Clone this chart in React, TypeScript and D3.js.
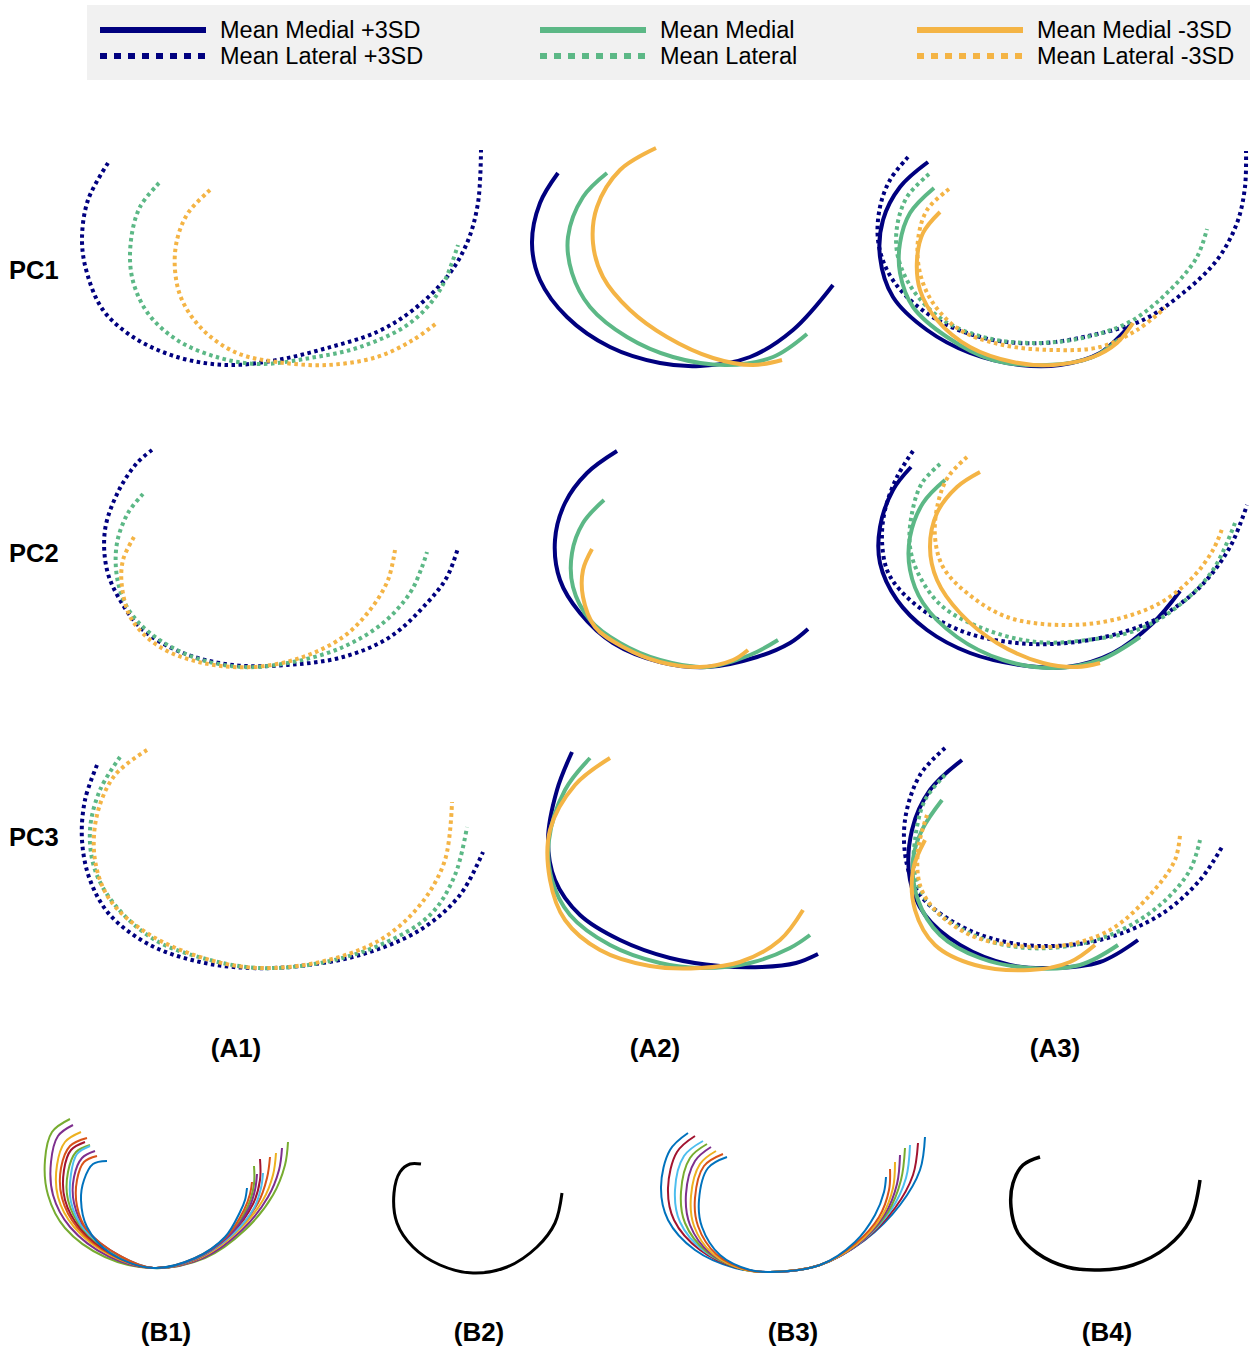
import React from 'react';
import * as d3 from 'd3';

type Pt = [number, number];

const NAVY = '#00007f';
const GREEN = '#5cb886';
const ORANGE = '#f4b445';

// B-panel palette (outer to inner)
const B1_COLORS = ['#77AC30', '#7E2F8E', '#EDB120', '#D95319', '#A2142F', '#77AC30', '#4DBEEE', '#7E2F8E', '#D95319', '#0072BD'];
const B3_COLORS = ['#0072BD', '#A2142F', '#4DBEEE', '#77AC30', '#7E2F8E', '#EDB120', '#D95319', '#0072BD'];

const LEGEND_LABELS = [
  ['Mean Medial +3SD', 'Mean Lateral +3SD'],
  ['Mean Medial', 'Mean Lateral'],
  ['Mean Medial -3SD', 'Mean Lateral -3SD'],
];
const ROW_LABELS = ['PC1', 'PC2', 'PC3'];
const COL_LABELS = ['(A1)', '(A2)', '(A3)'];
const B_LABELS = ['(B1)', '(B2)', '(B3)', '(B4)'];

// ---- PC1 ----
const pc1LatPlus: Pt[] = [[48,33],[28,70],[22,110],[27,143],[43,180],[73,207],[117,227],[167,235],[217,230],[267,218],[317,202],[353,180],[387,147],[407,113],[418,73],[421,20]];
const pc1LatMean: Pt[] = [[99,53],[80,77],[71,110],[72,147],[87,182],[117,210],[160,228],[200,234],[250,228],[300,217],[350,193],[380,160],[398,115]];
const pc1LatMinus: Pt[] = [[150,60],[128,83],[117,110],[115,140],[122,170],[143,200],[177,223],[217,232],[267,235],[317,227],[353,210],[378,192]];
const pc1MedPlus: Pt[] = [[58,43],[40,73],[32,113],[40,150],[67,187],[110,217],[160,233],[200,236],[250,227],[293,200],[333,155]];
const pc1MedMean: Pt[] = [[107,43],[83,67],[68,107],[72,143],[90,177],[127,207],[173,227],[227,235],[273,227],[307,204]];
const pc1MedMinus: Pt[] = [[156,18],[120,40],[97,77],[93,113],[103,147],[130,180],[167,207],[213,228],[253,235],[282,230]];
const pc1BothLatPlus: Pt[] = [[48,27],[30,50],[20,77],[18,110],[27,140],[47,167],[83,193],[133,210],[183,213],[233,205],[283,190],[323,163],[357,130],[377,93],[385,57],[386,21]];
const pc1BothMedPlus: Pt[] = [[68,32],[40,57],[23,90],[20,127],[33,167],[67,200],[110,223],[160,235],[200,235],[240,223],[272,193]];
const pc1BothLatMean: Pt[] = [[69,44],[47,67],[37,97],[38,127],[53,160],[83,190],[127,208],[177,213],[227,207],[273,190],[313,157],[337,127],[347,99]];
const pc1BothMedMean: Pt[] = [[74,58],[50,83],[40,113],[40,143],[53,177],[87,207],[133,230],[187,235],[233,227],[258,210]];
const pc1BothLatMinus: Pt[] = [[89,59],[67,80],[58,110],[60,143],[73,173],[100,200],[143,215],[193,220],[240,217],[277,200],[305,178]];
const pc1BothMedMinus: Pt[] = [[80,82],[63,103],[57,130],[60,160],[77,190],[110,217],[153,232],[193,235],[233,227],[257,213],[273,193]];

// ---- PC2 ----
const pc2LatPlus: Pt[] = [[92,20],[77,33],[58,62],[45,100],[47,140],[60,170],[83,200],[123,223],[173,235],[227,235],[283,227],[330,207],[367,173],[387,147],[398,118]];
const pc2LatMean: Pt[] = [[83,64],[68,83],[57,113],[57,147],[67,177],[90,203],[133,227],[183,237],[233,232],[283,217],[323,193],[350,163],[362,137],[367,122]];
const pc2LatMinus: Pt[] = [[74,107],[63,130],[62,157],[72,190],[100,217],[143,233],[193,237],[240,228],[283,207],[310,180],[328,150],[335,120]];
const pc2MedPlus: Pt[] = [[117,21],[87,43],[65,73],[55,110],[60,150],[80,183],[113,213],[160,232],[207,237],[257,227],[290,213],[308,199]];
const pc2MedMean: Pt[] = [[104,70],[83,93],[72,123],[73,157],[90,190],[120,213],[160,230],[207,237],[250,225],[278,210]];
const pc2MedMinus: Pt[] = [[92,119],[83,140],[83,167],[95,197],[123,217],[160,232],[200,237],[233,230],[248,220]];
const pc2BothLatPlus: Pt[] = [[53,21],[37,47],[25,80],[22,110],[27,140],[40,160],[67,183],[107,203],[157,213],[207,213],[260,203],[300,187],[340,157],[370,117],[387,75]];
const pc2BothMedPlus: Pt[] = [[51,37],[33,60],[20,97],[20,133],[37,170],[67,200],[110,223],[160,235],[207,237],[253,223],[293,193],[320,161]];
const pc2BothLatMean: Pt[] = [[80,34],[62,53],[52,83],[50,117],[60,147],[83,177],[127,200],[177,212],[227,210],[277,200],[317,177],[353,140],[375,93]];
const pc2BothMedMean: Pt[] = [[85,50],[63,73],[50,107],[50,140],[63,173],[97,207],[143,230],[193,238],[240,230],[280,207]];
const pc2BothLatMinus: Pt[] = [[107,27],[88,47],[78,73],[75,107],[83,137],[107,163],[147,187],[200,195],[253,190],[300,173],[333,147],[353,120],[362,99]];
const pc2BothMedMinus: Pt[] = [[120,42],[97,57],[77,83],[70,117],[77,150],[100,183],[137,213],[183,233],[217,237],[240,233]];

// ---- PC3 ----
const pc3LatPlus: Pt[] = [[37,35],[25,70],[22,110],[30,150],[50,185],[90,215],[140,232],[190,238],[240,236],[300,225],[360,200],[400,165],[423,122]];
const pc3LatMean: Pt[] = [[60,27],[40,60],[30,100],[35,140],[55,175],[95,210],[150,230],[200,238],[260,233],[320,215],[370,185],[395,145],[407,97]];
const pc3LatMinus: Pt[] = [[87,20],[55,45],[37,85],[35,130],[50,170],[90,205],[150,230],[200,238],[260,232],[320,210],[360,175],[385,130],[392,72]];
const pc3MedPlus: Pt[] = [[72,22],[57,60],[48,110],[55,150],[80,185],[120,210],[170,228],[220,236],[262,237],[296,233],[318,224]];
const pc3MedMean: Pt[] = [[90,28],[65,60],[49,110],[52,150],[70,185],[110,215],[160,233],[200,238],[250,233],[290,218],[310,205]];
const pc3MedMinus: Pt[] = [[110,28],[75,55],[50,100],[50,150],[65,190],[100,220],[150,236],[200,238],[240,232],[280,210],[303,180]];
const pc3BothLatPlus: Pt[] = [[85,18],[60,45],[45,90],[47,135],[60,165],[90,190],[130,208],[180,216],[240,210],[300,185],[340,150],[362,117]];
const pc3BothMedPlus: Pt[] = [[102,30],[70,60],[52,100],[50,150],[65,185],[100,215],[150,235],[190,238],[240,232],[278,210]];
const pc3BothLatMean: Pt[] = [[85,45],[65,70],[55,110],[55,145],[70,175],[100,198],[140,214],[190,218],[250,205],[300,175],[330,140],[340,110]];
const pc3BothMedMean: Pt[] = [[82,70],[62,100],[53,130],[58,170],[80,205],[120,228],[170,238],[220,235],[258,215]];
const pc3BothLatMinus: Pt[] = [[67,85],[58,120],[60,155],[75,180],[110,205],[150,215],[200,216],[250,200],[290,165],[315,130],[320,105]];
const pc3BothMedMinus: Pt[] = [[65,110],[53,140],[55,180],[75,215],[115,235],[170,240],[210,232],[235,215]];

// ---- B panels ----
const b1Curves: Pt[][] = [
  [[40,19],[22,32],[15,60],[18,95],[35,128],[75,157],[123,168],[175,158],[215,130],[243,95],[255,65],[258,42]],
  [[43,25],[28,36],[21,62],[23,95],[40,127],[78,156],[123,168],[173,158],[212,130],[238,97],[249,70],[252,48]],
  [[51,32],[35,42],[27,65],[28,97],[44,127],[80,155],[123,168],[170,158],[208,131],[233,100],[243,75],[246,53]],
  [[57,38],[40,46],[31,68],[32,98],[47,127],[82,155],[123,168],[168,158],[205,132],[228,103],[237,78],[240,57]],
  [[55,42],[41,50],[34,70],[35,100],[50,128],[84,155],[123,168],[166,159],[202,133],[223,104],[230,80],[230,59]],
  [[60,45],[46,52],[38,72],[38,100],[52,128],[86,155],[123,168],[165,159],[200,134],[218,106],[224,84],[224,66]],
  [[60,46],[47,54],[41,74],[41,102],[54,129],[88,155],[123,168],[165,159],[203,134],[224,108],[231,88],[233,73]],
  [[65,51],[52,58],[44,77],[44,103],[56,129],[90,156],[123,168],[164,159],[200,135],[219,108],[225,90],[227,74]],
  [[67,56],[54,62],[47,80],[47,106],[57,130],[92,157],[123,168],[163,159],[197,136],[214,110],[220,94],[222,82]],
  [[77,61],[63,64],[54,80],[51,100],[57,127],[80,153],[123,168],[165,158],[195,137],[210,112],[215,100],[217,88]],
];
const b2Curve: Pt[] = [[61,24],[50,24],[40,32],[34,53],[37,83],[53,107],[80,125],[113,133],[147,127],[177,107],[195,83],[202,53]];
const b3Curves: Pt[][] = [
  [[48,13],[30,30],[21,67],[28,100],[55,130],[95,148],[130,152],[180,145],[225,120],[260,85],[280,50],[285,17]],
  [[55,16],[37,32],[28,68],[34,100],[60,130],[98,148],[130,152],[180,145],[223,121],[255,88],[273,55],[278,23]],
  [[63,21],[44,36],[35,70],[40,102],[64,131],[100,148],[130,152],[180,145],[221,122],[251,90],[266,58],[270,25]],
  [[67,24],[50,38],[41,72],[45,103],[67,132],[102,149],[130,152],[180,145],[219,123],[248,92],[261,60],[265,28]],
  [[71,27],[55,41],[46,74],[50,105],[70,133],[104,149],[130,152],[180,145],[218,124],[245,94],[257,64],[260,35]],
  [[76,31],[60,44],[51,76],[54,106],[73,134],[106,150],[130,152],[180,145],[217,124],[242,96],[253,68],[255,42]],
  [[83,34],[64,46],[55,78],[58,106],[76,134],[108,150],[130,152],[180,145],[216,123],[239,97],[249,70],[250,49]],
  [[87,37],[68,48],[59,80],[62,107],[80,135],[110,150],[130,152],[180,145],[215,122],[235,95],[244,72],[246,57]],
];
const b4Curve: Pt[] = [[50,17],[33,25],[23,43],[21,67],[28,93],[47,113],[77,127],[110,130],[143,125],[177,107],[200,80],[210,40]];

type Curve = { pts: Pt[]; color: string; dotted?: boolean; width?: number };

const COL_X = [60, 500, 860];
const ROW_Y = [130, 430, 730];

const gridPanels: Curve[][][] = [
  [
    [{ pts: pc1LatPlus, color: NAVY, dotted: true }, { pts: pc1LatMean, color: GREEN, dotted: true }, { pts: pc1LatMinus, color: ORANGE, dotted: true }],
    [{ pts: pc1MedPlus, color: NAVY }, { pts: pc1MedMean, color: GREEN }, { pts: pc1MedMinus, color: ORANGE }],
    [
      { pts: pc1BothLatPlus, color: NAVY, dotted: true }, { pts: pc1BothMedPlus, color: NAVY },
      { pts: pc1BothLatMean, color: GREEN, dotted: true }, { pts: pc1BothMedMean, color: GREEN },
      { pts: pc1BothLatMinus, color: ORANGE, dotted: true }, { pts: pc1BothMedMinus, color: ORANGE },
    ],
  ],
  [
    [{ pts: pc2LatPlus, color: NAVY, dotted: true }, { pts: pc2LatMean, color: GREEN, dotted: true }, { pts: pc2LatMinus, color: ORANGE, dotted: true }],
    [{ pts: pc2MedPlus, color: NAVY }, { pts: pc2MedMean, color: GREEN }, { pts: pc2MedMinus, color: ORANGE }],
    [
      { pts: pc2BothLatPlus, color: NAVY, dotted: true }, { pts: pc2BothMedPlus, color: NAVY },
      { pts: pc2BothLatMean, color: GREEN, dotted: true }, { pts: pc2BothMedMean, color: GREEN },
      { pts: pc2BothLatMinus, color: ORANGE, dotted: true }, { pts: pc2BothMedMinus, color: ORANGE },
    ],
  ],
  [
    [{ pts: pc3LatPlus, color: NAVY, dotted: true }, { pts: pc3LatMean, color: GREEN, dotted: true }, { pts: pc3LatMinus, color: ORANGE, dotted: true }],
    [{ pts: pc3MedPlus, color: NAVY }, { pts: pc3MedMean, color: GREEN }, { pts: pc3MedMinus, color: ORANGE }],
    [
      { pts: pc3BothLatPlus, color: NAVY, dotted: true }, { pts: pc3BothMedPlus, color: NAVY },
      { pts: pc3BothLatMean, color: GREEN, dotted: true }, { pts: pc3BothMedMean, color: GREEN },
      { pts: pc3BothLatMinus, color: ORANGE, dotted: true }, { pts: pc3BothMedMinus, color: ORANGE },
    ],
  ],
];

const bPanels: { ox: number; oy: number; curves: Curve[] }[] = [
  { ox: 30, oy: 1100, curves: b1Curves.map((pts, i) => ({ pts, color: B1_COLORS[i], width: 2 })) },
  { ox: 360, oy: 1140, curves: [{ pts: b2Curve, color: '#000', width: 3 }] },
  { ox: 640, oy: 1120, curves: b3Curves.map((pts, i) => ({ pts, color: B3_COLORS[i], width: 2 })) },
  { ox: 990, oy: 1140, curves: [{ pts: b4Curve, color: '#000', width: 3.5 }] },
];

const FONT = 'Arial, "Liberation Sans", sans-serif';

const Panel = ({ ox, oy, curves }: { ox: number; oy: number; curves: Curve[] }) => {
  const xs = d3.scaleLinear().domain([0, 400]).range([ox, ox + 400]);
  const ys = d3.scaleLinear().domain([0, 260]).range([oy, oy + 260]);
  const line = d3.line<Pt>()
    .x(d => xs(d[0]))
    .y(d => ys(d[1]))
    .curve(d3.curveCatmullRom.alpha(0.5));
  return (
    <g>
      {curves.map((c, i) => (
        <path
          key={i}
          d={line(c.pts) || ''}
          fill="none"
          stroke={c.color}
          strokeWidth={c.width ?? 4}
          strokeDasharray={c.dotted ? '3.5 3.5' : undefined}
        />
      ))}
    </g>
  );
};

const Legend = () => {
  const colX = d3.scaleOrdinal<number, number>().domain([0, 1, 2]).range([100, 540, 917]);
  const colors = [NAVY, GREEN, ORANGE];
  return (
    <g>
      <rect x={87} y={5} width={1163} height={75} fill="#f1f1f1" />
      {LEGEND_LABELS.map((pair, i) => (
        <g key={i}>
          {pair.map((label, j) => {
            const y = j === 0 ? 30 : 56;
            return (
              <g key={j}>
                <line
                  x1={colX(i)} x2={colX(i) + 106} y1={y} y2={y}
                  stroke={colors[i]} strokeWidth={6}
                  strokeDasharray={j === 1 ? '7 7' : undefined}
                />
                <text x={colX(i) + 120} y={y + 8} fontSize={23.5} fontFamily={FONT} fill="#000">{label}</text>
              </g>
            );
          })}
        </g>
      ))}
    </g>
  );
};

const App = () => {
  return (
    <svg width={1252} height={1347} style={{ position: 'absolute', left: 0, top: 0, background: '#fff' }}>
      <Legend />
      {gridPanels.map((row, r) =>
        row.map((curves, c) => <Panel key={`${r}-${c}`} ox={COL_X[c]} oy={ROW_Y[r]} curves={curves} />)
      )}
      {ROW_LABELS.map((t, i) => (
        <text key={t} x={9} y={[279, 562, 846][i]} fontSize={25.5} fontWeight="bold" fontFamily={FONT}>{t}</text>
      ))}
      {COL_LABELS.map((t, i) => (
        <text key={t} x={[236, 655, 1055][i]} y={1057} fontSize={26} fontWeight="bold" fontFamily={FONT} textAnchor="middle">{t}</text>
      ))}
      {bPanels.map((p, i) => <Panel key={i} ox={p.ox} oy={p.oy} curves={p.curves} />)}
      {B_LABELS.map((t, i) => (
        <text key={t} x={[166, 479, 793, 1107][i]} y={1341} fontSize={26} fontWeight="bold" fontFamily={FONT} textAnchor="middle">{t}</text>
      ))}
    </svg>
  );
};

export default App;
